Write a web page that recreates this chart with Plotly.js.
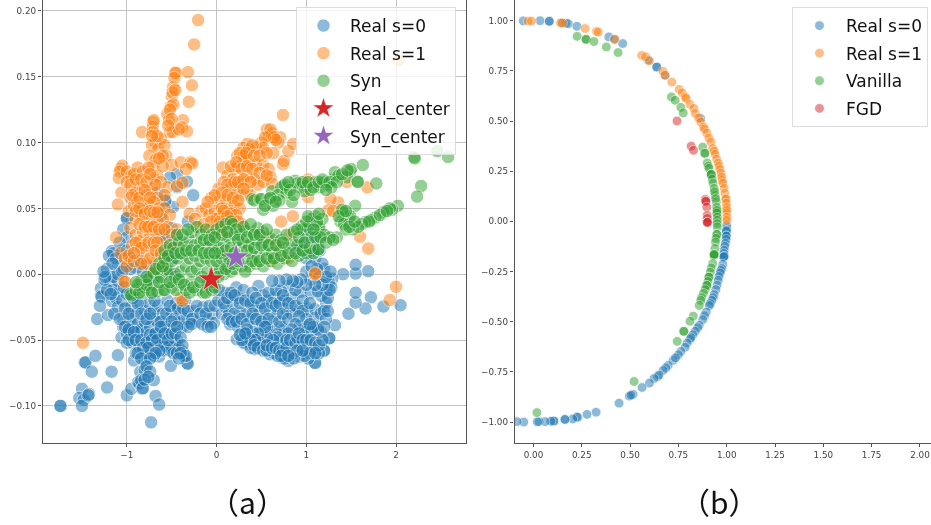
<!DOCTYPE html>
<html><head><meta charset="utf-8">
<script src="https://cdn.plot.ly/plotly-3.0.1.min.js"></script>
<style>html,body{margin:0;padding:0;background:#fff}#c{width:931px;height:525px;filter:blur(.35px)}</style>
</head><body><div id="c"></div>
<script>
// Panel (a): values as [x, y]
const aRealS0Outliers = [[-1.74,-.1],[-1.74,-.1],[-1.5,-.087],[-1.53,-.094],[-1.48,-.0955],[-1.5,-.1],[-1.42,-.091],[-1.43,-.092],[-1.47,-.067],[-1.46,-.067],[-1.35,-.062],[-1.39,-.074],[-1.22,-.086],[-1.17,-.074],[-1.1,-.0615],[-1,-.092],[-.95,-.087],[-.73,-.1125],[-.68,-.0925],[-.64,-.099],[-.7,-.0805],
[2.05,-.0235],[1.86,-.0245],[1.72,-.0175],[1.66,-.026],[1.55,-.0215],[1.55,-.014],[1.47,-.03],[1.69,.0023],[1.55,.0005],[1.55,.0072],[1.41,0],[1.32,-.0387],[1.26,-.0485]];
const aRealS0Left = [[-1.288,-.0106],[-1.29,-.0163],[-1.28,-.017],[-1.33,-.034],[-1.21,-.031],[-1.165,-.0205],[-1.3,-.024],[-1.19,-.0055],[-1.08,-.012],[-1.04,-.034],[-1.04,-.04],[-.93,-.039],[-.93,-.0465],[-.82,-.049],[-.71,-.034],[-.6,-.044],[-.55,-.054],[-.44,-.0505],[-.375,-.059],[-.33,-.0675],[-.32,-.068],[-.51,-.0695],[-.64,-.0625],[-.8,-.0655],[-.92,-.0655],[-.85,-.074],[-.875,-.082],[-.86,-.083],[-.83,-.087],[-.84,-.0805],[-.82,-.0865],[-.8,-.0725],
[-1.12,-.018],[-1.1,-.025],[-1.05,-.02],[-1.0,-.015],[-.95,-.025],[-.9,-.03],[-.85,-.022],[-.8,-.028],[-.75,-.022],[-.7,-.028],[-.65,-.024],[-.6,-.03],[-.55,-.02],[-.5,-.028],[-.45,-.022],[-.4,-.03],[-.35,-.02],[-.3,-.036],[-.25,-.028],[-.2,-.036],[-.15,-.025],[-.1,-.035],[-.05,-.03],[-.03,-.037],
[-1.06,-.048],[-1,-.045],[-1,-.052],[-.96,-.034],[-.94,-.052],[-.88,-.038],[-.88,-.044],[-.86,-.055],[-.84,-.042],[-.8,-.036],[-.78,-.044],[-.76,-.052],[-.74,-.04],[-.72,-.058],[-.7,-.046],[-.68,-.052],[-.66,-.036],[-.64,-.044],[-.62,-.054],[-.6,-.05],[-.58,-.038],[-.56,-.046],[-.52,-.042],[-.5,-.052],[-.48,-.056],[-.46,-.052],[-.42,-.056],[-.42,-.037],[-.38,-.04],[-.36,-.034],[-.6,-.058],[-.58,-.055],[-.52,-.058],[-.48,-.06],[-.44,-.06],[-.78,-.06],[-.7,-.062],[-.9,-.06]];
const aRealS0LeftFill = [[-1.15,-.012],[-1.22,-.012],[-1.25,-.004],[-1.18,-.015],[-1.1,-.005],[-1.03,-.01],[-1.14,-.03],[-1.08,-.034],[-1.02,-.026],[-.98,-.03],[-.93,-.018],[-.88,-.022],[-.84,-.03],[-.78,-.034],[-.74,-.03],[-.69,-.02],[-.62,-.036],[-.56,-.03],[-.52,-.024],[-.47,-.034],[-.43,-.026],[-.37,-.026],[-.32,-.028],[-.27,-.034],[-.22,-.024],[-.18,-.03],[-.12,-.03],[-.08,-.024],[-.32,-.04],[-.28,-.038],[-.16,-.038],[-.1,-.04],[-.06,-.04],[-.02,-.024],[-1.02,-.04],[-.98,-.042],[-.98,-.05],[-.92,-.044],[-.9,-.05],[-.84,-.05],[-.82,-.056],[-.78,-.052],[-.74,-.046],[-.72,-.05],[-.68,-.045],[-.66,-.05],[-.64,-.058],[-.62,-.04],[-.58,-.045],[-.54,-.05],[-.5,-.045],[-.5,-.036],[-.46,-.045],[-.44,-.04],[-.4,-.048],[-.38,-.054],[-.36,-.062],[-.34,-.062],[-.4,-.06],[-.42,-.064],[-.76,-.056],[-.68,-.06],[-.88,-.06],[-.84,-.064],[-.74,-.064],[-.78,-.07],[-.74,-.074],[-.8,-.08],[-.76,-.078]];
const aRealS0Right = [[.93,-.0134],[1.05,-.014],[.8,-.0089],[.467,-.0089],[.22,-.01],[.095,-.014],[1.225,-.0134],[1.22,-.0215],[1.17,-.0165],[1.29,-.0033],[.262,-.0292],[.36,-.0203],[.52,-.016],[.78,-.0266],[.91,-.026],[1.01,-.026],[1.095,-.0266],[.466,-.0393],[.15,-.038],[.28,-.0443],[.76,-.0423],[.93,-.0393],[1.01,-.04],[1.115,-.0405],[1.255,-.0487],[1.195,-.058],[1.2,-.058],[1.095,-.067],[1.1,-.0675],[1.07,-.0563],[.92,-.0626],[.725,-.0634],[.595,-.0608],[.445,-.05],[.345,-.048],[.225,-.0494],[.336,-.053],[.43,-.057],[.855,-.0525],[.745,-.0545],[.67,-.052],[.8,-.0658],[.595,-.0443],[.985,-.0487],
[.02,-.02],[.06,-.03],[.1,-.025],[.14,-.03],[.18,-.022],[.24,-.018],[.3,-.012],[.32,-.03],[.38,-.034],[.42,-.025],[.48,-.028],[.52,-.034],[.56,-.02],[.6,-.028],[.64,-.018],[.68,-.03],[.72,-.013],[.76,-.02],[.84,-.018],[.88,-.012],[.84,-.03],[.72,-.04],[.66,-.044],[.62,-.036],[.56,-.04],[.5,-.045],[.4,-.044],[.24,-.04],[.3,-.052],[.38,-.056],[.52,-.054],[.6,-.052],[.72,-.05],[.64,-.06],[.68,-.062],[.76,-.064],[.82,-.058],[.86,-.06],[.94,-.055],[1,-.058],[1.02,-.064],[1.06,-.058],[1.14,-.06],[.97,-.042],[1.05,-.044],[1.1,-.033],[1.16,-.03],[1.2,-.028],[1.16,-.044],[1.13,-.013],[1.05,-.004],[1,.002],[1.14,-.002],[1.2,.004],[1.25,-.006],[1.28,-.01],[1.22,-.034],[1.1,.012],[1.15,.018],[1,.012]];
const aRealS0RightFill = [[.03,-.012],[.08,-.022],[.12,-.018],[.16,-.014],[.2,-.016],[.2,-.03],[.12,-.034],[.17,-.036],[.22,-.036],[.26,-.022],[.28,-.034],[.32,-.02],[.34,-.038],[.38,-.022],[.4,-.014],[.4,-.03],[.44,-.034],[.44,-.018],[.5,-.022],[.5,-.036],[.54,-.026],[.58,-.034],[.58,-.014],[.62,-.022],[.66,-.024],[.66,-.012],[.7,-.022],[.7,-.036],[.74,-.03],[.74,-.016],[.8,-.022],[.8,-.034],[.88,-.024],[.96,-.02],[.96,-.028],[1.04,-.022],[1.0,-.034],[.92,-.032],[.88,-.038],[.84,-.042],[.8,-.045],[.68,-.048],[.63,-.05],[.56,-.048],[.54,-.04],[.46,-.045],[.48,-.052],[.43,-.05],[.38,-.05],[.34,-.042],[.28,-.05],[.26,-.046],[.32,-.045],[.42,-.054],[.46,-.056],[.52,-.058],[.56,-.058],[.56,-.054],[.62,-.056],[.66,-.056],[.7,-.058],[.74,-.058],[.78,-.056],[.78,-.05],[.82,-.05],[.88,-.052],[.9,-.048],[.92,-.045],[.96,-.05],[1,-.05],[1.05,-.05],[1.1,-.052],[1.14,-.054],[1.04,-.06],[.98,-.062],[.9,-.058],[.86,-.064],[.72,-.062],[.8,-.062],[.96,-.058],[1.1,-.06],[1.18,-.05],[1.13,-.042],[1.08,-.04],[1.04,-.038],[1.2,-.04],[1.24,-.028],[1.24,-.018],[1.26,-.012],[1.18,-.008],[1.1,-.008],[1,-.008],[.94,-.004],[.9,-.006],[.85,-.005],[.78,-.004],[.7,-.005],[.62,-.005],[1.18,.008],[1.12,.004],[1.06,.006],[1.22,-.002],[1.27,.002]];
const aRealS0Upper = [[-1,.0425],[-1,.0425],[-1.165,.0175],[-1.15,.016],[-1.04,.034],[-1,.028],[-.44,.076],[-.52,.0735],[-.33,.0705],[-.26,.06],[-.485,.051],[-.575,.0555],[-.57,.056],[-.32,.04],[-.44,.028],[-.55,.0265],[-.52,.019],[-1.22,.004],[-1.15,-.002],[-1.1,.008],[-.76,.006],[-1.05,.018],[-1.2,.014],[-1.1,.0],[-1.03,.004],[-.95,.012],[-.9,.005],[-.85,.01],[-.6,.014],[-.48,.012],[-.5,.035],[-.46,.0],[-.66,.062],[-.62,.045],[-.44,.066],[-.6,.03],[-.68,-.002],[-.56,.002],[-1.24,-.002],[1.0,.028],[1.04,.034],[.95,.022],[.9,.018],[1.08,.018],[1.12,.026],[-1.08,.024],[-1.12,.012],[-1.0,.018],[-.96,.004],[-.82,.002],[-.74,-.002],[-.64,.004],[-1.05,.002],[-1.16,.008],[-1.26,.002]];
const aRealS1Spike = [[-.205,.193],[-.25,.1745],[-.45,.153],[-.46,.153],[-.32,.1535],[-.275,.1435],[-.31,.131],[-.485,.142],[-.5,.135],[-.49,.138],[-.47,.149],[-.51,.1275],[-.48,.129],[-.55,.1215],[-.53,.117],[-.52,.108],[-.49,.108],[-.375,.117],[-.385,.1115],[-.33,.1085],[-.42,.11],[-.71,.1155],[-.71,.112],[-.7,.117],[-.83,.108],[-.71,.108],[-.68,.1],[-.72,.098],[-.65,.095],[-.62,.103],[-.58,.098],[-.56,.09],[-.75,.09],[-.68,.087],[-.71,.082],[-.5,.083],[-.4,.085],[-.29,.085],[-.27,.084],[-.34,.08],[-.66,.105],[-.6,.09],[-.72,.105],[-.52,.125],[-.5,.118],[-.46,.14],[-.54,.113],[-.66,.075],[-.6,.082],[-.64,.088]];
const aRealS1Left = [[-1.07,.08],[-1.05,.0825],[-1.08,.078],[-1.09,.073],[-1,.078],[-.95,.075],[-.92,.076],[-.88,.081],[-.82,.078],[-.76,.081],[-.7,.073],[-.62,.07],[-.55,.066],[-.44,.067],[-.38,.0695],[-1.06,.062],[-1.1,.053],[-.96,.058],[-.9,.062],[-.85,.065],[-.78,.06],[-.72,.065],[-.66,.058],[-.58,.06],[-.98,.048],[-.92,.052],[-.88,.055],[-.82,.05],[-.76,.053],[-.7,.055],[-.64,.05],[-.58,.05],[-.52,.045],[-.9,.042],[-.84,.045],[-.78,.04],[-.72,.042],[-.66,.04],[-.6,.042],[-.54,.036],[-.44,.034],[-.96,.035],[-.9,.03],[-.82,.032],[-.74,.03],[-.68,.032],[-.62,.025],[-.56,.02],[-1.12,.028],[-.94,.022],[-.88,.018],[-.86,.025],[-.8,.022],[-.72,.018],[-.66,.012],[-.6,.005],[-1.07,.016],[-1.02,.012],[-1.0,.006],[-.98,.014],[-.92,.01],[-.82,.012],[-.78,.008],[-.74,.012],[-1.03,-.005],[-1.02,-.006],[-.7,.002],[-.5,.03],[-.45,.022],[-.38,.055],[-.3,.046],
[-1.0,.07],[-.96,.068],[-.9,.072],[-.84,.072],[-.78,.07],[-.74,.076],[-.68,.068],[-.94,.06],[-.86,.058],[-.8,.064],[-.74,.058],[-.9,.048],[-.86,.05],[-.8,.046],[-.74,.048],[-.7,.047],[-.66,.047],[-.86,.038],[-.8,.036],[-.76,.036],[-.7,.036],[-.64,.034],[-.58,.034],[-.9,.024],[-.84,.02],[-.76,.024],[-.7,.024],[-.66,.024],[-.84,.008],[-.92,.016],[-.68,.018],[-.62,.016]];
const aRealS1Right = [[.56,.11],[.58,.105],[.62,.107],[.74,.121],[.71,.104],[.69,.1],[.34,.099],[.3,.096],[.23,.09],[.26,.092],[.36,.095],[.44,.096],[.5,.1],[.74,.0835],[.75,.086],[.63,.092],[.8,.0935],[.855,.099],[.07,.081],[.12,.075],[.2,.08],[.24,.082],[.3,.085],[.36,.087],[.44,.083],[.52,.083],[.58,.08],[.18,.072],[.27,.07],[.34,.075],[.42,.072],[.46,.068],[.52,.07],[.6,.074],[.62,.069],[.02,.065],[.08,.07],[.16,.066],[.22,.062],[.28,.06],[.34,.064],[.38,.06],[-.06,.058],[.02,.055],[.1,.057],[.14,.05],[.2,.052],[.26,.05],[-.17,.048],[-.12,.05],[-.08,.045],[-.02,.048],[.04,.044],[.1,.042],[.18,.042],[.28,.038],[-.24,.042],[-.2,.036],[-.14,.038],[-.08,.034],[.0,.036],[.04,.032],[.56,.028],[.72,.04],[.85,.044],[1.02,.0585],[1.02,.072],[1.355,.0545],[1.27,.057],[1.245,.0485],[1.45,.07],[1.68,.066],[1.6,.0285],[1.69,.0195],[2.03,.1625],[1.3,.048],[1.1,.0],[.82,.03],[.68,.022],[.8,.012],[.62,.01],[2,-.0095],[1.93,-.0195],[1.1,.0007],[-1.49,-.052],[-.4,-.018],[-.38,-.02],
[.6,.11],[.64,.104],[.66,.102],[.54,.104],[.52,.096],[.4,.098],[.3,.09],[.33,.092],[.42,.09],[.48,.09],[.56,.092],[.16,.082],[.22,.085],[.28,.08],[.34,.082],[.4,.08],[.48,.077],[.56,.075],[.12,.068],[.2,.07],[.24,.07],[.3,.072],[.38,.07],[.06,.062],[.12,.06],[.18,.058],[.24,.056],[.3,.065],[-.02,.06],[-.1,.055],[.06,.05],[.0,.042],[.08,.048],[.16,.046],[.22,.045],[-.06,.04],[.04,.04],[.12,.044],[.1,.034],[.24,.04]];
const aSynMain = [[-.96,-.015],[-.95,-.016],[-.9,-.012],[-.82,-.014],[-.8,-.01],[-.74,-.012],[-.7,-.008],[-.66,-.013],[-.6,-.012],[-.55,-.007],[-.5,-.01],[-.45,-.012],[-.4,-.006],[-.34,-.012],[-.28,-.006],[-.22,-.012],[-.15,-.014],[-.1,-.008],[-.05,-.012],[-.04,-.006],
[-.84,-.005],[-.76,-.004],[-.7,.001],[-.62,-.002],[-.56,.004],[-.52,.002],[-.46,-.002],[-.4,.002],[-.34,.006],[-.28,.002],[-.22,.004],[-.16,-.002],[-.1,.002],[-.02,.002],[.04,.004],[.08,.0],[.12,.006],[.16,.002],[.2,.004],[.28,.006],[.36,.006],[.44,.008],[.52,.006],[.6,.01],[.68,.008],[.76,.012],[.84,.01],[.92,.014],[1.0,.016],[1.08,.016],[1.14,.019],[.3,.012],[.38,.016],[.46,.013],[.54,.018],[.62,.016],[.7,.018],[.78,.02],[.84,.023],[.9,.022],
[-.64,.008],[-.58,.012],[-.5,.01],[-.44,.012],[-.36,.015],[-.3,.012],[-.24,.014],[-.18,.01],[-.12,.012],[-.06,.01],[.0,.01],[.06,.012],[.12,.015],[.24,.02],[.3,.024],[.36,.022],[.44,.026],[.52,.024],[.6,.027],[.66,.03],[.72,.026],[.78,.03],[.52,.032],
[-.58,.018],[-.52,.022],[-.48,.02],[-.42,.024],[-.36,.022],[-.3,.026],[-.24,.022],[-.18,.024],[-.1,.02],[-.04,.022],[.02,.02],[.08,.024],[.14,.028],[.2,.03],[.26,.03],[.32,.033],[.4,.032],[.46,.035],[-.28,.032],[-.22,.036],[-.17,.03],[-.12,.034],[-.05,.03],[.0,.034],[.05,.036],[.1,.038],[.16,.04],[.18,.038],[.22,.034],[.3,.036],[.38,.038]];
const aSynMainFill = [[-.88,-.008],[-.86,-.014],[-.78,-.008],[-.72,-.014],[-.64,-.006],[-.58,-.012],[-.52,-.006],[-.42,-.004],[-.36,-.008],[-.3,-.014],[-.26,-.01],[-.18,-.006],[-.12,-.014],[-.02,-.01],[.02,-.002],[.1,.004],[.14,.012],[.18,.008],[.24,.01],[.32,.002],[.4,.01],[.48,.01],[.56,.012],[.64,.012],[.72,.014],[.8,.016],[.88,.016],[.96,.018],[1.04,.02],[.34,.018],[.42,.02],[.5,.022],[.58,.022],[.66,.022],[.74,.024],[.04,.016],[.1,.018],[.16,.02],[.2,.016],[-.68,.004],[-.6,.006],[-.54,.014],[-.46,.016],[-.4,.016],[-.34,.018],[-.28,.018],[-.2,.018],[-.14,.016],[-.08,.016],[-.02,.016],[.06,.03],[.12,.032],[-.44,.03],[-.38,.03],[-.32,.034],[-.14,.026],[-.08,.026],[-.02,.028],[.24,.026],[.34,.028],[.42,.03],[.48,.03],[.56,.034],[.22,.012],[-.78,-.002],[-.9,-.006]];
const aSynBands = [[.4,.057],[.42,.056],[.485,.057],[.5,.057],[.52,.049],[.63,.052],[.62,.063],[.74,.067],[.72,.066],[.84,.055],[.875,.071],[.93,.066],[.9,.069],[1.0,.067],[.98,.063],[1.1,.07],[1.155,.066],[1.23,.068],[1.3,.072],[1.32,.0775],[1.49,.078],[1.5,.08],[1.455,.0735],[1.57,.0705],[1.575,.07],[1.63,.083],[1.78,.069],[.68,.06],[.58,.057],[.78,.062],[1.05,.064],[1.2,.07],[1.36,.075],[.7,.056],
[.54,.052],[.6,.058],[.66,.055],[.76,.068],[.82,.064],[.86,.06],[.8,.07],[.96,.07],[1.02,.07],[1.08,.066],[1.14,.07],[1.18,.072],[1.26,.07],[1.34,.07],[1.28,.066],[1.22,.064],[1.4,.076],[1.46,.079],
[2.02,.052],[1.955,.049],[1.93,.05],[1.86,.047],[1.77,.043],[1.72,.041],[1.655,.0395],[1.62,.038],[1.52,.034],[1.545,.052],[1.47,.043],[1.49,.044],[1.41,.047],[1.38,.04],[1.4,.049],[1.42,.038],[1.58,.036],[2.2,.089],[2.21,.088],[2.46,.0935],[2.58,.089],[2.28,.067],[2.235,.059],
[1.44,.034],[1.48,.036],[1.36,.044],[1.44,.048],[1.54,.04],[1.7,.04],[1.82,.045],[1.9,.048],
[.95,.0365],[.96,.034],[1.1,.044],[1.06,.042],[1.155,.034],[1.14,.036],[1.18,.042],[1.34,.028],[1.135,.019],[1.02,.036],[1.05,.028],[1.2,.03],[1.26,.028],[.86,.032],[.92,.028],[.98,.024],[1.1,.028],[1.0,.04],[1.12,.04],[1.16,.028],[1.22,.024],[1.3,.026],[1.08,.034],[.9,.034],[1.02,.044],[1.14,.046]];
const aRealCenter = [[-.06,-.0038]];
const aSynCenter = [[.217,.0129]];

// Panel (b): values as [x, y]
const bRealS0 = [[-.053,.999],[.034,1],[.082,.997],[.082,.997],[.146,.989],[.168,.988],[.18,.985],[.225,.972],[.39,.919],[.42,.907],[.462,.886],[.594,.803],[.638,.769],[.638,.769],[.681,.728],[.865,.513],
[1,-.035],[1,-.02],[.999,-.045],[.998,-.05],[.998,-.073],[.998,-.073],[.997,-.09],[.993,-.11],[.99,-.125],[.987,-.145],[.985,-.16],[.984,-.178],[.984,-.178],[.987,-.174],[.98,-.214],[.975,-.235],[.97,-.245],[.966,-.258],[.96,-.275],[.956,-.294],[.95,-.318],[.944,-.34],[.935,-.365],[.93,-.38],[.923,-.394],[.915,-.41],[.91,-.42],[.894,-.452],[.885,-.47],[.876,-.49],[.858,-.518],[.85,-.53],[.837,-.548],[.825,-.565],[.81,-.588],[.815,-.58],[.795,-.607],[.785,-.627],[.763,-.648],[.75,-.665],[.723,-.693],[.735,-.68],[.697,-.718],[.685,-.73],[.671,-.743],[.643,-.773],[.65,-.766],[.624,-.783],[.6,-.806],[.562,-.828],[.516,-.862],[.496,-.871],[.505,-.866],[.443,-.906],[.324,-.951],[.277,-.962],[.23,-.977],[.225,-.975],[.203,-.985],[.163,-.987],[.163,-.987],[.106,-.995],[.106,-.995],[.09,-.996],[.06,-.998],[.03,-.998],[.02,-.999],[-.05,-1],[-.085,-.998]];
const bRealS1 = [[-.028,.998],[-.01,.998],[.14,.989],[.15,.988],[.267,.961],[.326,.947],[.335,.943],[.42,.907],[.56,.827],[.58,.82],[.6,.8],[.67,.748],[.681,.728],[.716,.694],[.754,.658],[.77,.64],[.785,.62],[.79,.612],[.81,.583],[.83,.563],[.837,.538],[.855,.515],[.866,.495],[.88,.47],[.885,.46],[.897,.44],[.908,.415],[.918,.395],[.928,.363],[.935,.35],[.94,.334],[.948,.31],[.956,.29],[.96,.275],[.965,.258],[.97,.24],[.977,.204],[.974,.22],[.98,.19],[.987,.165],[.99,.14],[.996,.114],[.996,.11],[.998,.09],[.9995,.07],[1,.04],[1,.055],[1,.02],[1,.005]];
const bVanilla = [[.226,.922],[.272,.907],[.272,.907],[.313,.896],[.377,.869],[.438,.841],[.714,.62],[.733,.603],[.763,.568],[.775,.54],[.876,.37],[.887,.339],[.887,.339],[.899,.291],[.905,.275],[.909,.264],[.92,.234],[.92,.234],[.92,.234],[.925,.21],[.929,.191],[.935,.164],[.94,.13],[.937,.148],[.946,.096],[.943,.113],[.948,.07],[.949,.04],[.949,.04],[.95,.055],[.951,.02],[.951,.005],[.951,-.012],[.951,-.028],[.949,-.065],[.949,-.065],[.945,-.085],[.942,-.103],[.939,-.135],[.934,-.17],[.934,-.17],[.935,-.165],[.935,-.165],[.928,-.21],[.92,-.232],[.915,-.253],[.908,-.278],[.908,-.278],[.903,-.3],[.897,-.319],[.897,-.319],[.888,-.34],[.88,-.359],[.87,-.38],[.866,-.394],[.858,-.419],[.827,-.472],[.81,-.498],[.778,-.548],[.778,-.548],[.744,-.598],[.521,-.798],[.018,-.953]];
const bFGD = [[.743,.5],[.816,.375],[.828,.354],[.889,.11],[.892,.1],[.892,.1],[.897,.071],[.899,.03],[.9,.015],[.9,-.005],[.9,-.005],[.9,-.005]];

const aLabels = ['Real s=0','Real s=1','Syn','Real_center','Syn_center'];
const bLabels = ['Real s=0','Real s=1','Vanilla','FGD'];
const colors = {blue:'#1f77b4',orange:'#ff7f0e',green:'#2ca02c',red:'#d62728',purple:'#9467bd'};
const aSeries = [aRealS0Outliers.concat(aRealS0Left,aRealS0LeftFill,aRealS0Right,aRealS0RightFill,aRealS0Upper), aRealS1Spike.concat(aRealS1Left,aRealS1Right), aSynMain.concat(aSynMainFill,aSynBands)];
const bSeries = [bRealS0,bRealS1,bVanilla,bFGD];

const xs = p => p.map(d=>d[0]), ys = p => p.map(d=>d[1]);
function dots(p,name,color,size,lw,ax,ay,leg){
  return {type:'scatter',mode:'markers',x:xs(p),y:ys(p),name:name,xaxis:ax,yaxis:ay,legend:leg,legendgroup:leg+name,
    marker:{color:color,size:size,opacity:.5,line:{color:'#fff',width:lw}},hoverinfo:'skip'};
}
function star(p,name,color){
  return {type:'scatter',mode:'markers',x:xs(p),y:ys(p),name:name,xaxis:'x',yaxis:'y',legend:'legend',legendgroup:name,
    marker:{color:color,size:20,symbol:'star',line:{color:'#fff',width:.6}},hoverinfo:'skip'};
}
const aColors=[colors.blue,colors.orange,colors.green], bColors=[colors.blue,colors.orange,colors.green,colors.red];
const data = [
  ...aSeries.map((s,i)=>dots(s,aLabels[i],aColors[i],13.5,1,'x','y','legend')),
  star(aRealCenter,aLabels[3],colors.red), star(aSynCenter,aLabels[4],colors.purple),
  ...bSeries.map((s,i)=>dots(s,bLabels[i],bColors[i],9.8,.8,'x2','y2','legend2'))
];
const W=931,H=525;
const common = {showline:true,linecolor:'#555',linewidth:1.3,mirror:true,ticks:'outside',ticklen:3.5,tickwidth:.8,tickcolor:'#555',zeroline:false,
  tickfont:{family:'DejaVu Sans',size:8.8,color:'#444'}};
const legendBase = {bgcolor:'rgba(255,255,255,.8)',bordercolor:'#dcdcdc',borderwidth:1,font:{family:'DejaVu Sans',size:17,color:'#111'},
  xanchor:'left',yanchor:'top',itemsizing:'trace',itemwidth:43,tracegroupgap:2.5,itemclick:false,itemdoubleclick:false};
const layout = {
  width:W,height:H,margin:{l:0,r:0,t:0,b:0},paper_bgcolor:'#fff',plot_bgcolor:'#fff',showlegend:true,
  font:{family:'DejaVu Sans'},
  xaxis:{...common,domain:[42.5/W,466/W],range:[-1.94,2.78],tickvals:[-1,0,1,2],tickformat:'d',showgrid:true,gridcolor:'#c4c4c4',gridwidth:1,anchor:'y'},
  yaxis:{...common,domain:[1-442.5/H,1],range:[-.1278,.2083],tickvals:[-.1,-.05,0,.05,.1,.15,.2],tickformat:'.2f',showgrid:true,gridcolor:'#c4c4c4',gridwidth:1,anchor:'x'},
  xaxis2:{...common,domain:[514.5/W,1],range:[-.098,2.057],tickvals:[0,.25,.5,.75,1,1.25,1.5,1.75,2],tickformat:'.2f',showgrid:false,anchor:'y2'},
  yaxis2:{...common,mirror:false,domain:[1-442.5/H,1],range:[-1.102,1.103],tickvals:[-1,-.75,-.5,-.25,0,.25,.5,.75,1],tickformat:'.2f',showgrid:false,anchor:'x2'},
  legend:{...legendBase,x:296/W,y:1-7/H,entrywidth:109},
  legend2:{...legendBase,x:792/W,y:1-7/H,entrywidth:85},
  annotations:[
    {xref:'paper',yref:'paper',x:247/W,y:1-501/H,xanchor:'center',yanchor:'middle',text:'（a）',showarrow:false,font:{family:'Noto Sans CJK JP',size:30,color:'#111'}},
    {xref:'paper',yref:'paper',x:719/W,y:1-501/H,xanchor:'center',yanchor:'middle',text:'（b）',showarrow:false,font:{family:'Noto Sans CJK JP',size:30,color:'#111'}}
  ]
};
Plotly.newPlot('c',data,layout,{displayModeBar:false});
</script></body></html>
